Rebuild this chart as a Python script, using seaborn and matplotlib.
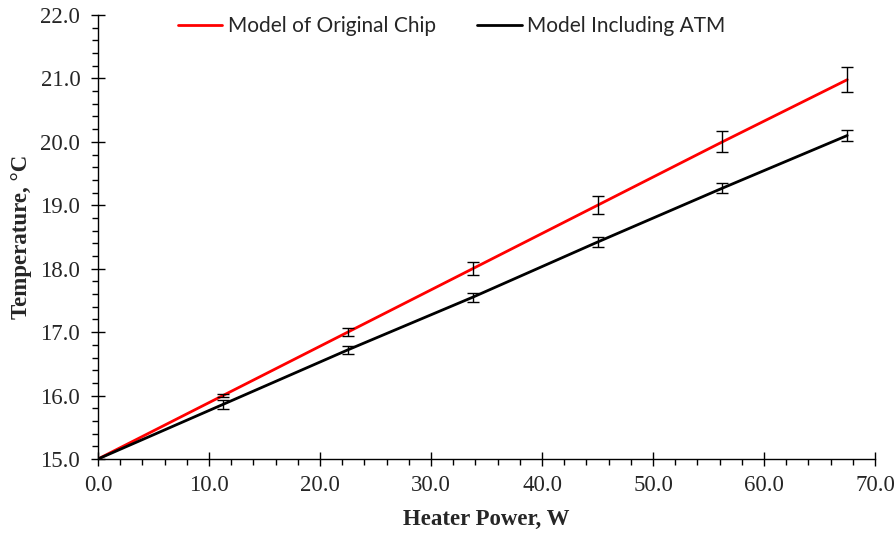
import matplotlib
matplotlib.use("Agg")
import matplotlib.pyplot as plt
from matplotlib.ticker import MultipleLocator, FormatStrFormatter
import seaborn as sns
import pandas as pd

# Heater power (W) and modelled chip temperature (°C)
power = [0.0, 11.25, 22.5, 33.75, 45.0, 56.25, 67.5]
temp_original = [15.0, 16.0, 17.0, 18.0, 19.0, 20.0, 20.98]
err_original = [0.0, 0.03, 0.065, 0.10, 0.14, 0.165, 0.20]
temp_atm = [15.0, 15.86, 16.72, 17.55, 18.42, 19.27, 20.10]
err_atm = [0.0, 0.07, 0.065, 0.07, 0.08, 0.08, 0.085]

series_names = ["Model of Original Chip", "Model Including ATM"]
series_colors = ["#ff0000", "#000000"]

df = pd.concat([
    pd.DataFrame({"power": power, "temp": temp_original, "err": err_original,
                  "model": series_names[0]}),
    pd.DataFrame({"power": power, "temp": temp_atm, "err": err_atm,
                  "model": series_names[1]}),
], ignore_index=True)

sns.set_style("ticks")
serif = ["Liberation Serif", "DejaVu Serif"]

fig = plt.figure(figsize=(8.96, 5.35), dpi=100)
ax = fig.add_axes([98 / 896, 1 - 459 / 535, (875 - 98) / 896, (459 - 15) / 535])

sns.lineplot(data=df, x="power", y="temp", hue="model",
             palette=dict(zip(series_names, series_colors)),
             linewidth=2.0, ax=ax, legend=True, errorbar=None, sort=False)

# error bars at each computed point (skip the origin)
for name in series_names:
    sub = df[(df["model"] == name) & (df["power"] > 0)]
    ax.errorbar(sub["power"], sub["temp"], yerr=sub["err"], fmt="none",
                ecolor="black", elinewidth=1.0, capsize=4, capthick=1.0,
                zorder=3)

ax.set_xlim(0, 70)
ax.set_ylim(15, 22)
ax.xaxis.set_major_locator(MultipleLocator(10))
ax.xaxis.set_minor_locator(MultipleLocator(2))
ax.yaxis.set_major_locator(MultipleLocator(1))
ax.yaxis.set_minor_locator(MultipleLocator(0.2))
ax.xaxis.set_major_formatter(FormatStrFormatter("%.1f"))
ax.yaxis.set_major_formatter(FormatStrFormatter("%.1f"))

ax.tick_params(which="major", direction="inout", length=9.5, width=1.0,
               color="black", labelsize=16.5)
ax.tick_params(axis="x", which="major", pad=7)
ax.tick_params(axis="y", which="major", pad=8)
ax.tick_params(which="minor", direction="out", length=4.2, width=1.0,
               color="black")
for lab in ax.get_xticklabels() + ax.get_yticklabels():
    lab.set_fontfamily(serif)

sns.despine(ax=ax)
for side in ("left", "bottom"):
    ax.spines[side].set_color("black")
    ax.spines[side].set_linewidth(1.0)

ax.set_xlabel("Heater Power, W", fontsize=16.5, fontweight="bold",
              family=serif, labelpad=9)
ax.set_ylabel("Temperature, °C", fontsize=16.5, fontweight="bold",
              family=serif, labelpad=6)

leg = ax.legend(loc="upper center", bbox_to_anchor=(0.455, 1.04), ncol=2,
                frameon=False, handlelength=2.15, handletextpad=0.25,
                columnspacing=2.0,
                prop={"family": ["Lato", "DejaVu Sans"], "size": 15})
for h in leg.get_lines():
    h.set_linewidth(2.0)

fig.savefig("out.png", dpi=100)
